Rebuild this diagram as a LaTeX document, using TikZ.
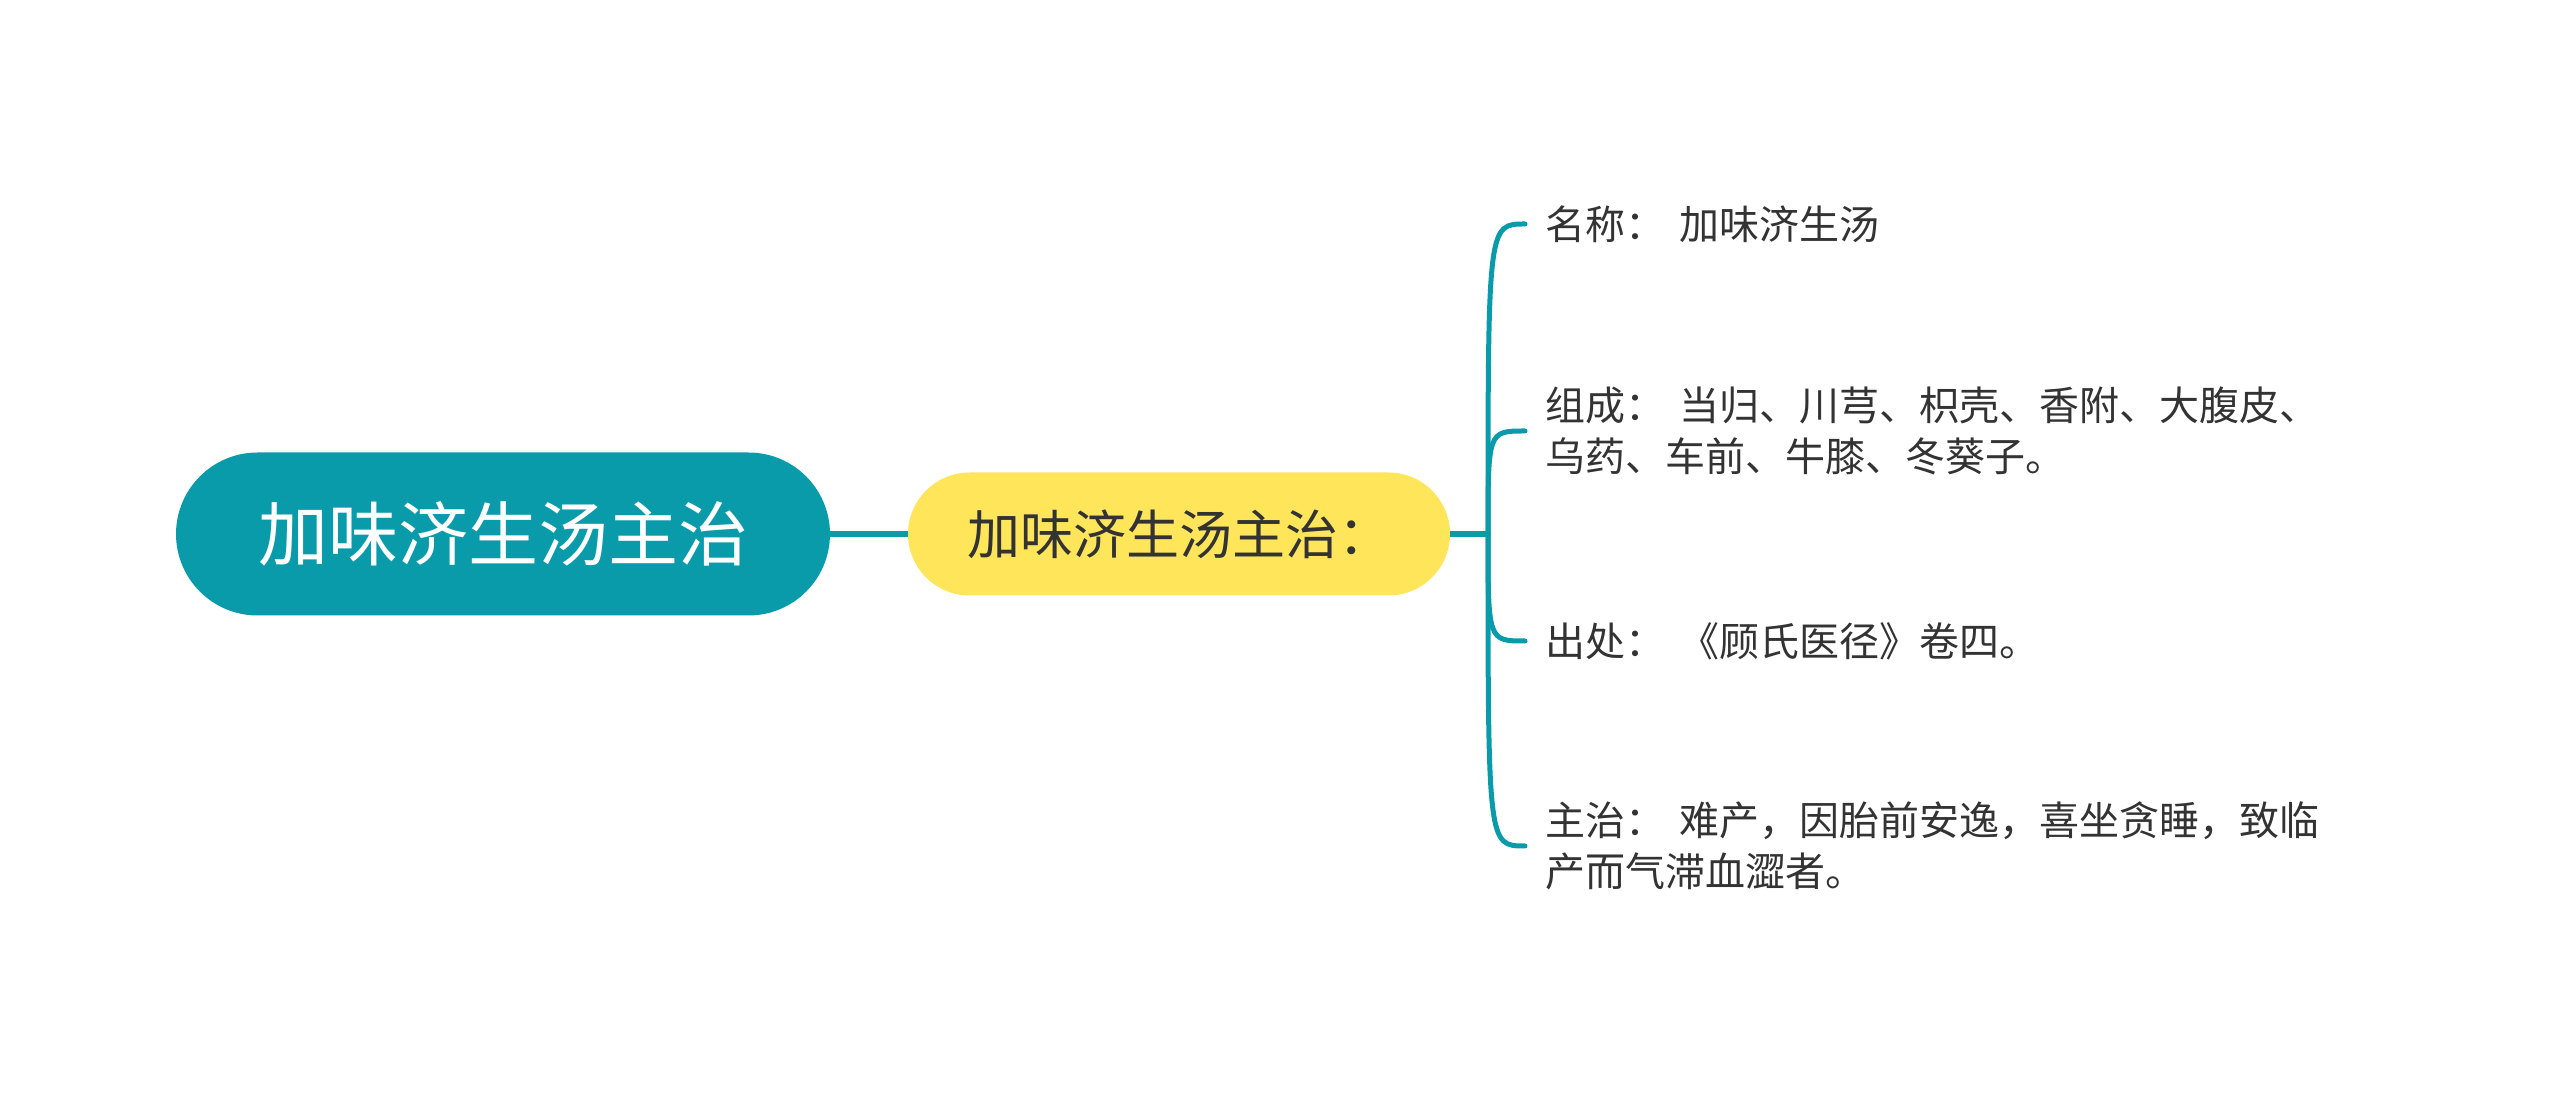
\documentclass[tikz,border=0pt]{standalone}
\usepackage{fontspec}
\setmainfont{Noto Sans CJK SC}
\usetikzlibrary{shapes.misc}
\definecolor{teal1}{HTML}{0A9BAB}
\definecolor{yellow1}{HTML}{FFE55A}
\definecolor{ink}{HTML}{333333}

\begin{document}
\begin{tikzpicture}[x=0.5pt,y=0.5pt]
\tikzstyle{rootbox} = [rounded rectangle, fill=teal1, text=white, minimum width=327pt, minimum height=81.5pt, inner sep=0, font=\fontsize{35pt}{42pt}\selectfont]
\tikzstyle{midbox} = [rounded rectangle, fill=yellow1, text=ink, minimum width=271pt, minimum height=61.5pt, inner sep=0, font=\fontsize{26.5pt}{32pt}\selectfont]
\tikzstyle{leaf} = [anchor=west, align=left, text=ink, inner xsep=10pt, inner ysep=0, font=\fontsize{20pt}{25.5pt}\selectfont]
\tikzstyle{link} = [draw=teal1, line width=3pt]
\tikzstyle{branch} = [draw=teal1, line width=2.5pt, line cap=round]

\useasboundingbox (0,0) rectangle (2560,1093);

% Knoten (y = 1093 - y in px)
\node[rootbox] (root) at (503,559) {加味济生汤主治};
\node[midbox] (mid) at (1179,559) {加味济生汤主治：};
\coordinate (jn) at (1488,559);

\node[leaf] (name) at (1525,869) {名称：\hspace{0.35em}加味济生汤};
\node[leaf] (comp) at (1525,662) {组成：\hspace{0.35em}当归、川芎、枳壳、香附、大腹皮、\\乌药、车前、牛膝、冬葵子。};
\node[leaf] (src) at (1525,452) {出处：\hspace{0.35em}《顾氏医径》卷四。};
\node[leaf] (cure) at (1525,247) {主治：\hspace{0.35em}难产，因胎前安逸，喜坐贪睡，致临\\产而气滞血澀者。};

% Verbindungen
\draw[link] (root.east) -- (mid.west);
\draw[link] (mid.east) -- (jn);
\foreach \target in {name,comp,src,cure} {
  \draw[branch] (jn) .. controls (jn |- \target.west) .. (\target.west);
}

\end{tikzpicture}
\end{document}
